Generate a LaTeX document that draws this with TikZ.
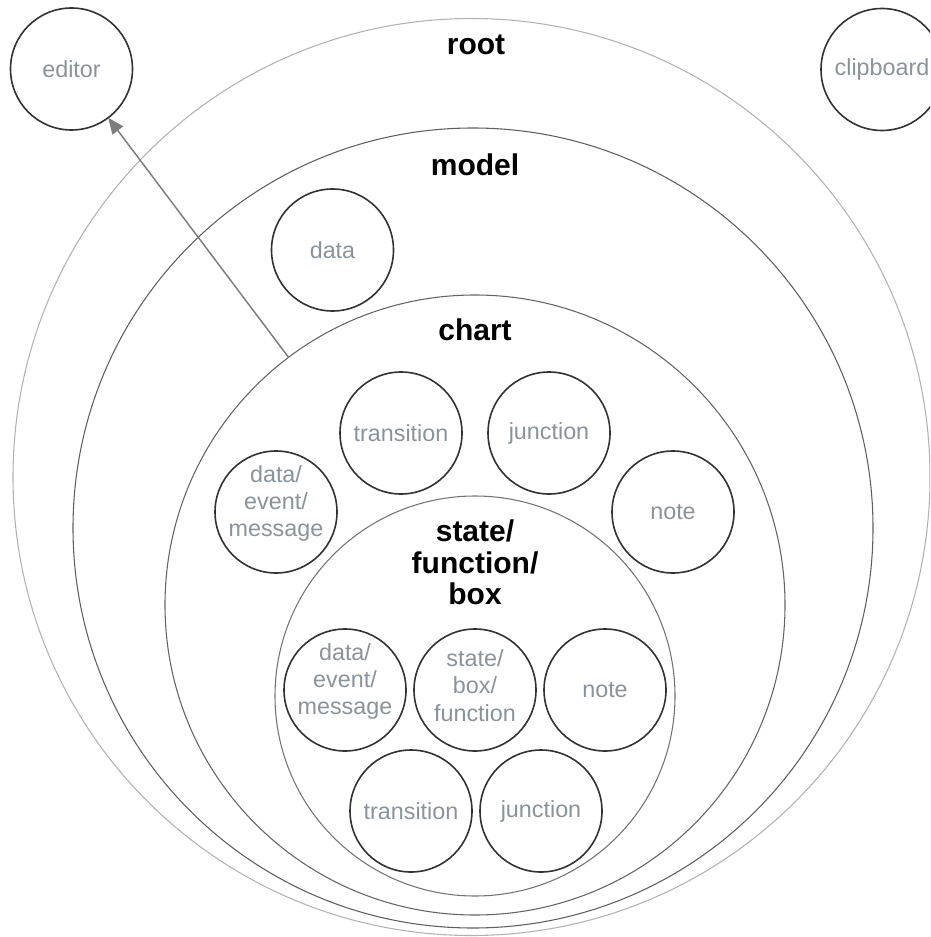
\documentclass[tikz,border=0pt]{standalone}
\usepackage{fontspec}
\setmainfont{Liberation Sans}
\usetikzlibrary{positioning,arrows.meta}

\definecolor{ink}{RGB}{50,50,50}
\definecolor{slate}{RGB}{137,147,155}
\definecolor{rootline}{RGB}{178,178,178}
\definecolor{modelline}{RGB}{95,95,95}
\definecolor{chartline}{RGB}{100,100,100}
\definecolor{stateline}{RGB}{115,115,115}
\definecolor{wire}{RGB}{125,125,125}

\begin{document}
\begin{tikzpicture}[x=0.75pt, y=-0.75pt,
		ring/.style={
			circle,
			draw,
			line width=0.8pt,
			inner sep=0pt,
			outer sep=0pt},
		blob/.style={
			circle,
			draw=ink,
			line width=1.2pt,
			minimum size=91.5pt,
			inner sep=0pt,
			outer sep=0pt,
			align=center,
			text=slate,
			font=\fontsize{17.5}{20.5}\selectfont},
		blobtext/.style={
			align=center,
			text=slate,
			inner sep=0pt,
			font=\fontsize{17.5}{20.5}\selectfont},
		title/.style={
			align=center,
			inner sep=0pt,
			font=\fontsize{22.5}{23.6}\selectfont\bfseries}]

	\useasboundingbox (0,0) rectangle (930,937);
	\clip (0,0) rectangle (930,937);

	% nested scopes
	\node (root) [ring, draw=rootline, minimum size=687.75pt] at (471.5,477) {};
	\node (model) [ring, draw=modelline, minimum size=600pt] at (473,528) {};
	\node (chart) [ring, draw=chartline, minimum size=465pt] at (475,605) {};
	\node (state) [ring, draw=stateline, minimum size=300pt] at (475,696) {};

	\node (rootTitle) [title, anchor=base] at (476,55) {root};
	\node (modelTitle) [title, anchor=base] at (475,176) {model};
	\node (chartTitle) [title, anchor=base] at (475,340) {chart};
	\node (stateTitle) [title] at (475,562.5) {state/\\function/\\box};

	% outside the root
	\node (editor) [blob] at (71.5,69) {editor};
	\node (clipboard) [blob] at (882,69.5) {clipboard};

	% model level
	\node (data) [blob] at (332.5,250) {data};

	% chart level
	\node (chartTransition) [blob] at (401,433) {transition};
	\node (chartJunction) [blob, right=19.5pt of chartTransition] {junction};
	\node (chartMessage) [blob, label={[blobtext, yshift=6.5pt]center:data/\\event/\\message}] at (276,512) {};
	\node (chartNote) [blob] at (673,512) {note};

	% state level
	\node (stateMessage) [blob, label={[blobtext, yshift=6.5pt]center:data/\\event/\\message}] at (345,690) {};
	\node (stateChild) [blob, right=6pt of stateMessage, label={[blobtext, yshift=3.4pt]center:state/\\box/\\function}] {};
	\node (stateNote) [blob, right=6pt of stateChild] {note};
	\node (stateTransition) [blob] at (411,811) {transition};
	\node (stateJunction) [blob, right=6pt of stateTransition] {junction};

	\draw [draw=wire, fill=wire, line width=1.1pt, -{Triangle[length=12pt, width=10pt]}] (chart) -- (editor);
\end{tikzpicture}
\end{document}
